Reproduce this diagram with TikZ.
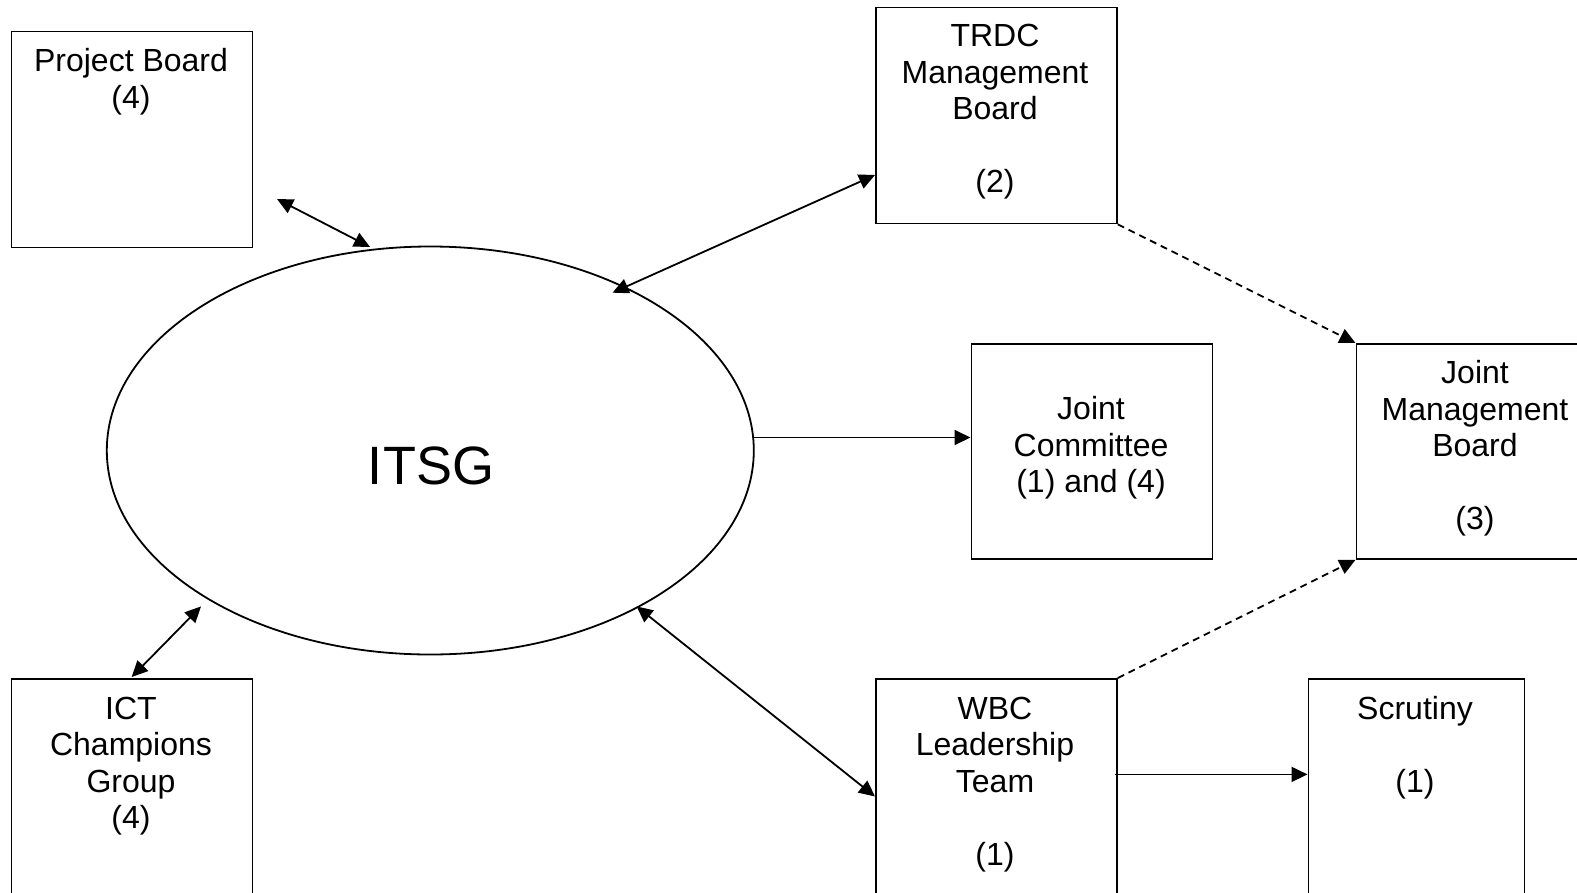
\documentclass[tikz,border=0pt]{standalone}
\usepackage{fontspec}
\setmainfont{Liberation Sans}
\usetikzlibrary{shapes.geometric,arrows.meta}
\begin{document}
\begin{tikzpicture}[x=1pt,y=-1pt,
  box/.style={draw,line width=1.8pt,rectangle,inner sep=0pt,anchor=north west,minimum width=241pt},
  txt/.style={align=center,inner sep=0pt,anchor=north,font=\fontsize{32}{36.5}\selectfont},
  conn/.style={line width=1.8pt},
  uni/.style={conn,-{Triangle[length=16pt,width=15pt]}},
  bi/.style={conn,{Triangle[length=16pt,width=15pt]}-{Triangle[length=16pt,width=15pt]}},
  dsh/.style={uni,dash pattern=on 7pt off 5pt}]
\useasboundingbox (0,0) rectangle (1577,892);
% boxes
\node[box,minimum height=216pt] (pb) at (10.5,30.5) {};
\node[box,minimum height=216pt] (trdc) at (875,6.5) {};
\node[box,minimum height=215pt] (jc) at (970.5,343) {};
\node[box,minimum height=215pt] (jmb) at (1355.5,343) {};
\node[box,minimum height=240pt] (wbc) at (875,678) {};
\node[box,minimum height=240pt,minimum width=216pt] (scr) at (1307.5,678) {};
\node[box,minimum height=240pt] (ict) at (10.5,678) {};
% ellipse
\node[draw,line width=1.8pt,ellipse,inner sep=0pt,minimum width=647pt,minimum height=408pt] (itsg) at (430.3,450.5) {};
% texts
\node[txt] (pbt) at (131,48.5) {Project Board\\(4)};
\node[txt] (trdct) at (995,24) {TRDC\\Management\\Board\\[36.5pt](2)};
\node[txt] (jct) at (1091,396.5) {Joint\\Committee\\(1) and (4)};
\node[txt] (jmbt) at (1475,360.5) {Joint\\Management\\Board\\[36.5pt](3)};
\node[txt] (wbct) at (995,696.5) {WBC\\Leadership\\Team\\[36.5pt](1)};
\node[txt] (scrt) at (1415,696.5) {Scrutiny\\[36.5pt](1)};
\node[txt] (ictt) at (131,696.5) {ICT\\Champions\\Group\\(4)};
\node[font=\fontsize{54}{60}\selectfont,inner sep=0pt] (itsgt) at (431,466) {ITSG};
% coordinates
\coordinate (pbA) at (277,199);
\coordinate (pbB) at (370,247);
\coordinate (trA) at (612.5,292.7);
\coordinate (trB) at (875,175);
\coordinate (jcA) at (754,437.5);
\coordinate (jcB) at (970.5,437.5);
\coordinate (wbA) at (636.6,606.4);
\coordinate (wbB) at (875,796.5);
\coordinate (icA) at (131.7,677);
\coordinate (icB) at (201,606.4);
\coordinate (scA) at (1115,774.4);
\coordinate (scB) at (1307.5,774.4);
% connectors
\draw[bi] (pbA) -- (pbB);
\draw[bi] (trA) -- (trB);
\draw[uni] (jcA) -- (jcB);
\draw[bi] (wbA) -- (wbB);
\draw[bi] (icA) -- (icB);
\draw[uni] (scA) -- (scB);
\draw[dsh] (trdc.south east) -- (jmb.north west);
\draw[dsh] (wbc.north east) -- (jmb.south west);
\end{tikzpicture}
\end{document}
